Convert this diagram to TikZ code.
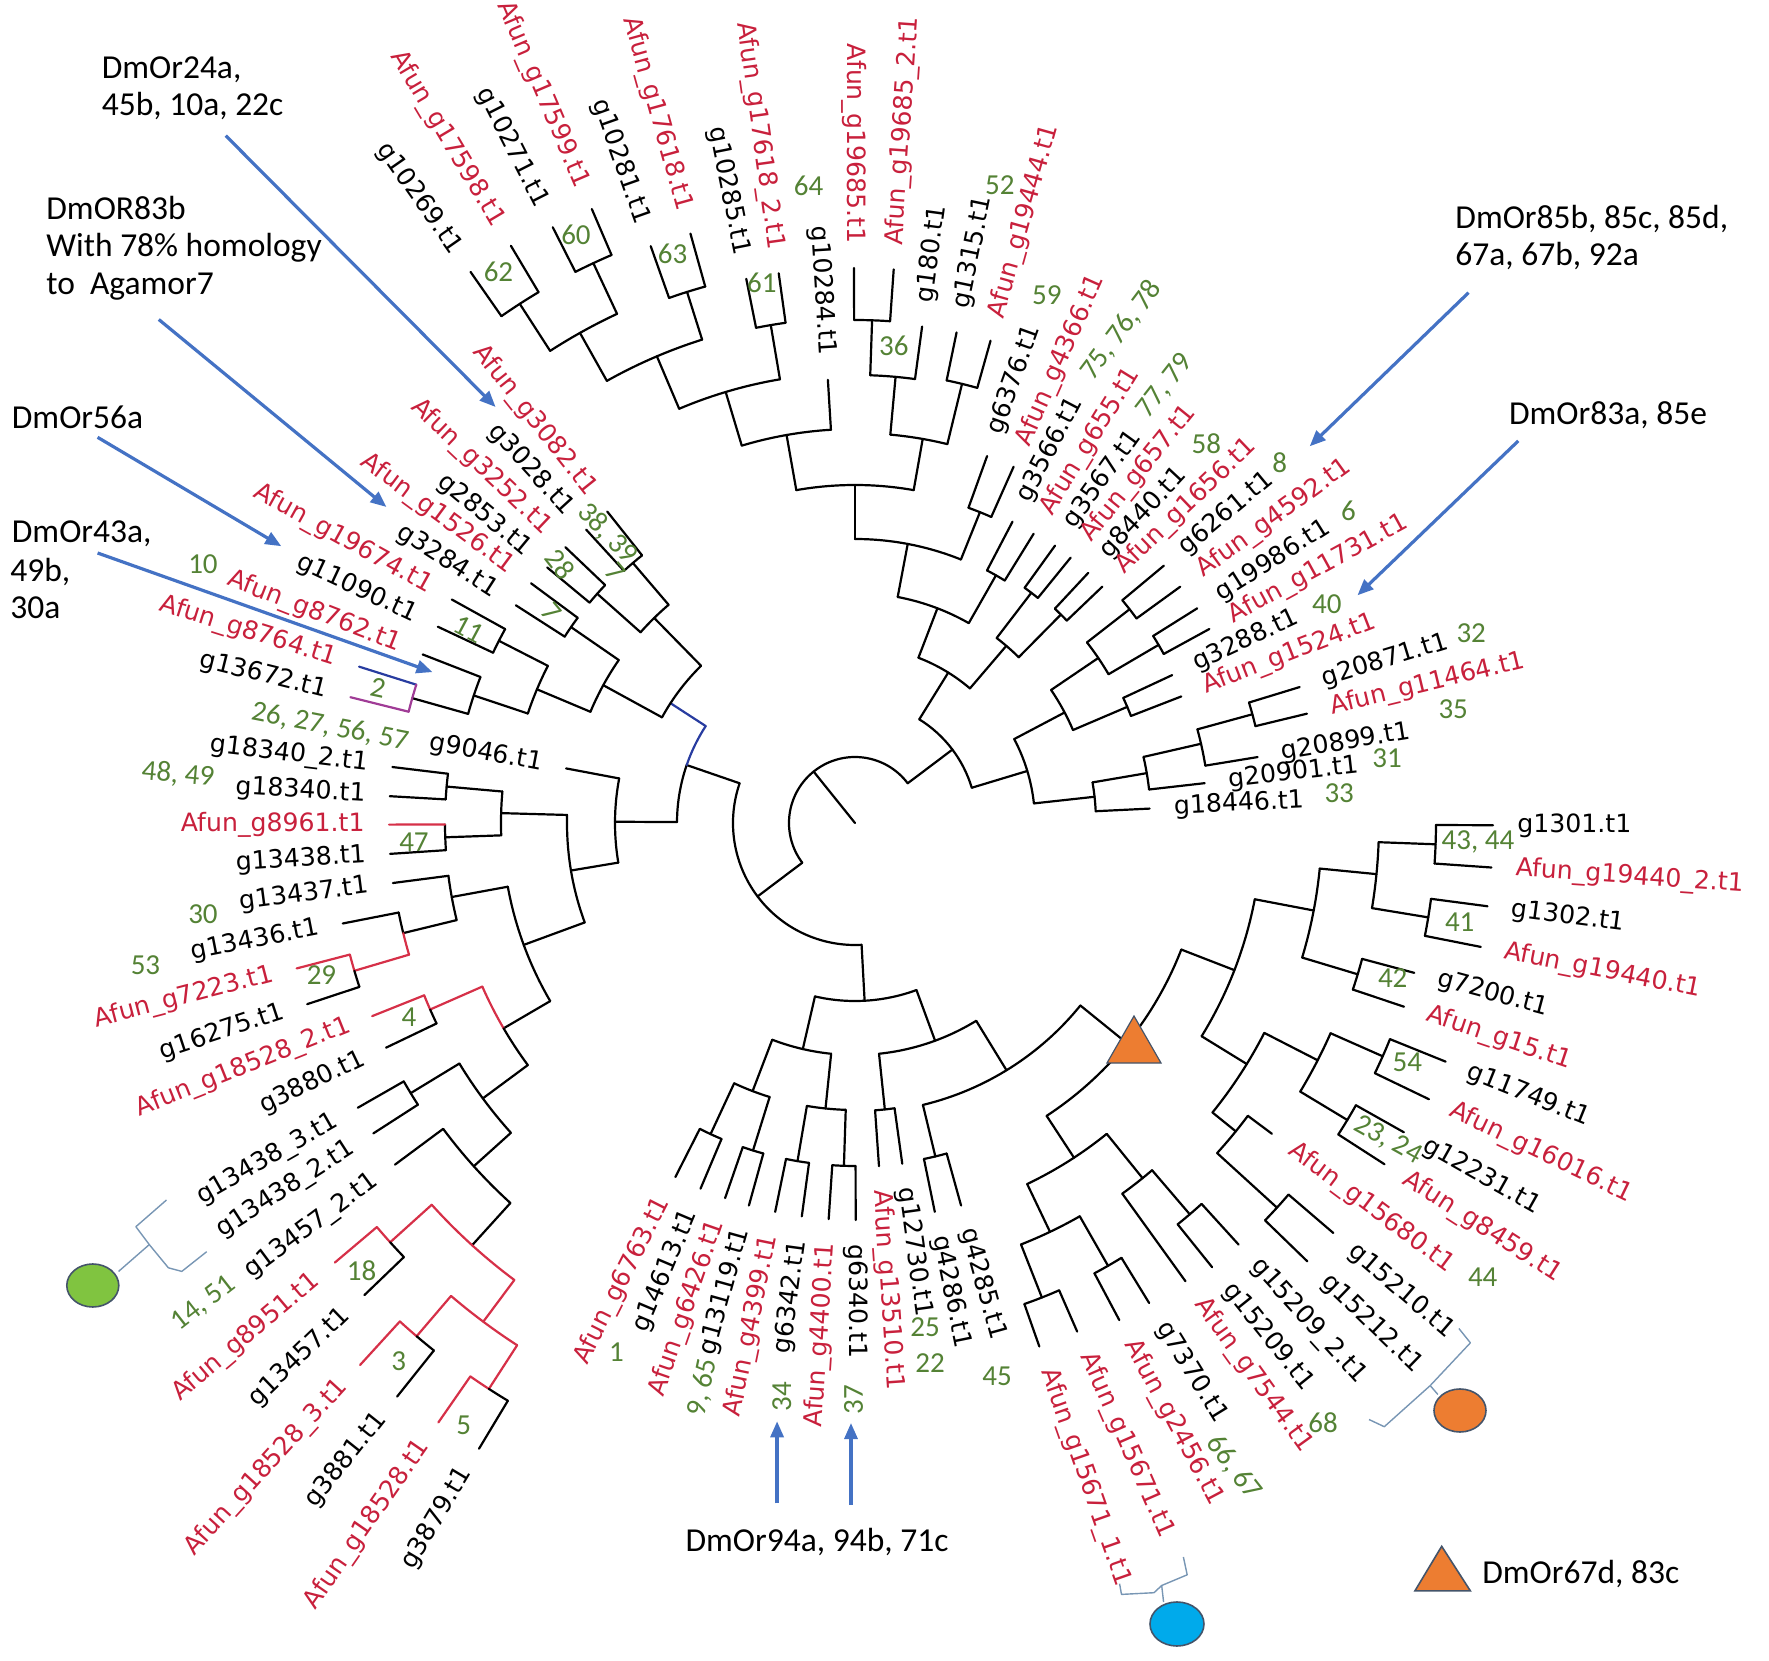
\documentclass[tikz,border=0pt]{standalone}
\usepackage{fontspec}
\setmainfont{DejaVu Sans}
\newfontfamily\cfont{Carlito}
\usetikzlibrary{arrows.meta}
\definecolor{lred}{RGB}{200,32,60}
\definecolor{lgreen}{RGB}{84,130,53}
\definecolor{abl}{RGB}{68,114,196}
\definecolor{bred}{RGB}{214,48,72}
\definecolor{bblue}{RGB}{40,60,160}
\definecolor{bpurp}{RGB}{160,60,150}
\definecolor{orng}{RGB}{237,125,49}
\definecolor{gcirc}{RGB}{128,196,64}
\definecolor{bcirc}{RGB}{0,170,235}
\definecolor{edgeb}{RGB}{68,84,106}
\definecolor{brkc}{RGB}{120,150,180}
\tikzset{
 tline/.style={line width=1.1pt,line cap=round,line join=round},
 lbl/.style={inner sep=0pt,font=\fontsize{12.6}{14}\selectfont},
 gnum/.style={inner sep=0pt,text=lgreen,font=\cfont\fontsize{14.5}{16}\selectfont},
 ann/.style={inner sep=0pt,anchor=base west,font=\cfont\fontsize{16.75}{20}\selectfont},
 arr/.style={color=abl,line width=1.6pt,-{Triangle[length=8pt,width=6.5pt]}},
 brk/.style={draw=brkc,line width=0.7pt,line join=round},
 redb/.style={draw=bred},
 blueb/.style={draw=bblue},
 purpb/.style={draw=bpurp}
}
\newcounter{lc}
\newcommand\tarc[4][]{\draw[tline,#1] (#2:#4) arc[start angle=#2,end angle=#3,radius=#4];}
\newcommand\trad[4][]{\draw[tline,#1] (#2:#3) -- (#2:#4);}
\newcommand\tpair[4]{\tarc{#1}{#2}{#3}\trad{#1}{#3}{#4}\trad{#2}{#3}{#4}}
\newcommand\lR[4][black]{\stepcounter{lc}\pgfmathsetmacro\LRr{#3+24}\node[lbl,text=#1,anchor=west,rotate=#2] (t\arabic{lc}) at (#2:\LRr) {#4};}
\newcommand\lL[4][black]{\stepcounter{lc}\pgfmathsetmacro\LRr{#3+24}\pgfmathsetmacro\LRa{#2+180}\node[lbl,text=#1,anchor=east,rotate=\LRa] (t\arabic{lc}) at (#2:\LRr) {#4};}
\newcommand\gn[4][0]{\stepcounter{lc}\node[gnum,rotate=#1] (g\arabic{lc}) at (#2,#3) {#4};}
\begin{document}
\begin{tikzpicture}[x=0.5pt,y=0.5pt]
\useasboundingbox (-855,-838) rectangle (914,823);
% ---------- root ----------
\draw[tline] (0,0) -- (128.8:66);
\tarc{37}{217}{66}
% ---------- N1 (top + upper right) ----------
\trad{37}{66}{122} \tarc{16.8}{58.2}{122}
\trad{58.2}{122}{177} \tarc{49.5}{69}{177}
\trad{69}{177}{230} \tarc{60.4}{79.3}{230}
\trad{79.3}{230}{284} \tarc{68.1}{90}{284}
\trad{90}{284}{338} \tarc{80}{100}{338}
\trad{100}{338}{394} \tarc{93.5}{106.7}{394}
\trad{93.5}{394}{444}
\trad{106.7}{394}{450} \tarc{99.6}{113}{450}
\trad{99.6}{450}{505} \tpair{97.9}{101.3}{505}{555}
\trad{113}{450}{507} \tarc{107.55}{119.3}{507}
\trad{107.55}{507}{557} \tpair{105.6}{109.5}{557}{612}
\trad{119.3}{507}{562} \tarc{115.05}{122.85}{562}
\trad{115.05}{562}{618} \tpair{113.2}{116.9}{618}{668}
\trad{122.85}{562}{618} \tpair{120.8}{124.9}{618}{672}
\trad{80}{338}{390} \tarc{76.3}{84.8}{390}
\trad{84.8}{390}{448} \tarc{82.3}{88.05}{448}
\trad{82.3}{448}{501}
\trad{88.05}{448}{503} \tpair{86}{90.1}{503}{555}
\trad{76.3}{390}{452} \tpair{74.3}{78.3}{452}{501}
\trad{68.1}{284}{335} \tpair{66}{70.2}{335}{390}
\trad{60.35}{230}{285} \tpair{58.3}{62.4}{285}{340}
\trad{49.5}{177}{233} \tarc{45.35}{52.55}{233}
\trad{52.55}{233}{290} \tpair{50.9}{54.2}{290}{342}
\trad{45.35}{233}{293} \tpair{43.7}{47}{293}{342}
\trad{16.8}{122}{180} \tarc{6.25}{27.8}{180}
\trad{27.8}{180}{237} \tarc{23.1}{34.15}{237}
\trad{34.15}{237}{294} \tarc{30.4}{37.9}{294}
\trad{37.9}{294}{348} \tpair{36}{39.8}{348}{402}
\trad{30.4}{294}{352} \tpair{28.7}{32.1}{352}{404}
\trad{23.1}{237}{296} \tpair{21.2}{25}{296}{350}
\trad{6.25}{180}{241} \tarc{2.8}{9.7}{241}
\trad{2.8}{241}{295}
\trad{9.7}{241}{296} \tarc{6.5}{12.9}{296}
\trad{6.5}{296}{352}
\trad{12.9}{296}{355} \tarc{9.3}{15.3}{355}
\trad{9.3}{355}{408}
\trad{15.3}{355}{412} \tpair{13.6}{17}{412}{465}
% ---------- N2 ----------
\trad{217}{66}{122} \tarc{161}{273.1}{122}
\trad{161}{122}{178} \tarc{161}{179.7}{178}
\tarc[blueb]{147}{161}{178}
\trad[blueb]{147}{178}{220} \tarc{134.4}{151.3}{220}
\trad{134.4}{220}{287} \tarc{130.5}{138.35}{287}
\trad{130.5}{287}{342} \tpair{128.5}{132.5}{342}{398}
\trad{138.35}{287}{345} \tpair{136.4}{140.3}{345}{400}
\trad{151.3}{220}{287} \tarc{145.4}{157.2}{287}
\trad{145.4}{287}{345} \tpair{143.5}{147.3}{345}{403}
\trad{157.2}{287}{345} \tarc{152.9}{161.5}{345}
\trad{152.9}{345}{400} \tpair{151}{154.8}{400}{461}
\trad{161.5}{345}{402} \tarc{158.7}{164.25}{402}
\trad{158.7}{402}{464}
\trad{164.25}{402}{460}
\trad[blueb]{162.5}{460}{520}
\tarc[purpb]{162.5}{166}{460}
\trad[purpb]{166}{460}{520}
% left clade
\trad{179.7}{178}{240} \tarc{169.3}{189.5}{240}
\trad{169.3}{240}{294}
\trad{189.5}{240}{288} \tarc{178.4}{200.2}{288}
\trad{178.4}{288}{354} \tarc{174.9}{182}{354}
\trad{174.9}{354}{410} \tpair{173.1}{176.7}{410}{466}
\trad{182}{354}{410} \tarc{180.2}{183.8}{410}
\trad[redb]{180.2}{410}{466} \trad{183.8}{410}{466}
\trad{200.2}{288}{353} \tarc{190.4}{210.3}{353}
\trad{190.4}{353}{410} \tarc{187.4}{193.7}{410}
\trad{187.4}{410}{466}
\trad{193.7}{410}{465} \tarc{191.1}{193.7}{465} \tarc[redb]{193.7}{196.45}{465}
\trad{191.1}{465}{522}
\trad[redb]{196.45}{465}{522} \tarc[redb]{194.6}{196.45}{522} \tarc{196.45}{198.3}{522}
\trad[redb]{194.6}{522}{577} \trad{198.3}{522}{577}
\trad{210.3}{353}{407} \tarc[redb]{203.7}{210.3}{407} \tarc{210.3}{216.5}{407}
\trad[redb]{203.7}{407}{464} \tarc[redb]{201.8}{203.7}{464} \tarc{203.7}{205.6}{464}
\trad[redb]{201.8}{464}{520} \trad{205.6}{464}{520}
\trad{216.5}{407}{463} \tarc{211.3}{222}{463}
\trad{211.3}{463}{520} \tpair{209.8}{212.8}{520}{573}
\trad{222}{463}{513} \tarc{216.6}{227.8}{513}
\trad{216.6}{513}{573}
\trad{227.8}{513}{570} \tarc[redb]{222.05}{233.3}{570}
\trad[redb]{222.05}{570}{626} \tarc[redb]{220.2}{222.05}{626} \tarc{222.05}{223.9}{626}
\trad[redb]{220.2}{626}{681} \trad{223.9}{626}{681}
\trad[redb]{233.3}{570}{622} \tarc[redb]{229.5}{237.1}{622}
\trad[redb]{229.5}{622}{675} \tarc[redb]{227.6}{229.5}{675} \tarc{229.5}{231.4}{675}
\trad[redb]{227.6}{675}{734} \trad{231.4}{675}{734}
\trad[redb]{237.1}{622}{674} \tarc[redb]{235.2}{237.1}{674} \tarc{237.1}{239}{674}
\trad[redb]{235.2}{674}{730} \trad{239}{674}{730}
% bottom + right
\trad{273.1}{122}{178} \tarc{257}{290.2}{178}
\trad{257}{178}{232} \tarc{249.1}{264.1}{232}
\trad{249.1}{232}{287} \tarc{245.1}{252.7}{287}
\trad{245.1}{287}{343} \tpair{243.1}{247.1}{343}{397}
\trad{252.7}{287}{343} \tpair{250.9}{254.5}{343}{397}
\trad{264.1}{232}{287} \tarc{260.35}{268.15}{287}
\trad{260.35}{287}{343} \tpair{258.4}{262.3}{343}{397}
\trad{268.15}{287}{343} \tpair{266.2}{270.1}{343}{397}
\trad{290.2}{178}{232} \tarc{275.95}{301.5}{232}
\trad{275.95}{232}{288} \tpair{274}{277.9}{288}{344}
\trad{301.5}{232}{290} \tarc{283.55}{321}{290}
\trad{283.55}{290}{343} \tpair{281.6}{285.5}{343}{397}
\trad{321}{290}{350} \tarc{303.2}{338.8}{350}
\trad{338.8}{350}{407} \tarc{328.4}{349.2}{407}
\trad{349.2}{407}{467} \tarc{343.25}{354.4}{467}
\trad{354.4}{467}{524} \tarc{350.65}{357.9}{524}
\trad{357.9}{524}{581} \tpair{356}{359.8}{581}{638}
\trad{350.65}{524}{581} \tpair{348.8}{352.5}{581}{638}
\trad{343.25}{467}{525} \tpair{341.5}{345}{525}{579}
\trad{328.4}{407}{460} \tarc{321}{332.85}{460}
\trad{332.85}{460}{520} \tarc{328.9}{336.15}{520}
\trad{336.15}{520}{577} \tpair{334.3}{338}{577}{637}
\trad{328.9}{520}{575} \tpair{327.2}{330.6}{575}{630}
\trad{321}{460}{490} \tarc{317.65}{323.3}{490}
\trad{323.3}{490}{520}
\trad{317.65}{490}{571} \tpair{315.9}{319.4}{571}{630}
\trad{303.2}{350}{400} \tarc{295.5}{309}{400}
\trad{309}{400}{457} \tarc{305.8}{310.55}{457}
\trad{305.8}{457}{565}
\trad{310.55}{457}{515} \tpair{308.8}{312.3}{515}{570}
\trad{295.5}{400}{453} \tarc{291.5}{299.75}{453}
\trad{299.75}{453}{510} \tpair{298}{301.5}{510}{563}
\trad{291.5}{453}{510} \tpair{289.4}{293.6}{510}{555}
% triangle on node
\filldraw[fill=orng,draw=edgeb,line width=0.6pt] (279,-193) -- (252,-240) -- (306,-240) -- cycle;
% ---------- tip labels ----------
\lL{124.9}{672}{g10269.t1}
\lL[lred]{120.8}{672}{Afun\_g17598.t1}
\lL{116.9}{668}{g10271.t1}
\lL[lred]{113.2}{668}{Afun\_g17599.t1}
\lL{109.5}{612}{g10281.t1}
\lL[lred]{105.6}{612}{Afun\_g17618.t1}
\lL{101.3}{555}{g10285.t1}
\lL[lred]{97.9}{555}{Afun\_g17618\_2.t1}
\lL{93.5}{444}{g10284.t1}
\lL[lred]{90.1}{555}{Afun\_g19685.t1}
\lR[lred]{86}{555}{Afun\_g19685\_2.t1}
\lR{82.3}{501}{g180.t1}
\lR{78.3}{501}{g1315.t1}
\lR[lred]{74.3}{501}{Afun\_g19444.t1}
\lR{70.2}{390}{g6376.t1}
\lR[lred]{66}{390}{Afun\_g4366.t1}
\lR{62.4}{340}{g3566.t1}
\lR[lred]{58.3}{340}{Afun\_g655.t1}
\lR{54.2}{342}{g3567.t1}
\lR[lred]{50.9}{342}{Afun\_g657.t1}
\lR{47}{342}{g8440.t1}
\lR[lred]{43.7}{342}{Afun\_g1656.t1}
\lR{39.8}{402}{g6261.t1}
\lR[lred]{36}{402}{Afun\_g4592.t1}
\lR{32.1}{404}{g19986.t1}
\lR[lred]{28.7}{404}{Afun\_g11731.t1}
\lR{25}{350}{g3288.t1}
\lR[lred]{21.2}{350}{Afun\_g1524.t1}
\lR{17}{465}{g20871.t1}
\lR[lred]{13.6}{465}{Afun\_g11464.t1}
\lR{9.3}{408}{g20899.t1}
\lR{6.5}{352}{g20901.t1}
\lR{2.8}{295}{g18446.t1}
\lR{359.8}{638}{g1301.t1}
\lR[lred]{356}{638}{Afun\_g19440\_2.t1}
\lR{352.5}{638}{g1302.t1}
\lR[lred]{348.8}{638}{Afun\_g19440.t1}
\lR{345}{579}{g7200.t1}
\lR[lred]{341.5}{579}{Afun\_g15.t1}
\lR{338}{637}{g11749.t1}
\lR[lred]{334.3}{637}{Afun\_g16016.t1}
\lR{330.6}{630}{g12231.t1}
\lR[lred]{327.2}{630}{Afun\_g8459.t1}
\lR[lred]{323.3}{520}{Afun\_g15680.t1}
\lR{319.4}{630}{g15210.t1}
\lR{315.9}{630}{g15212.t1}
\lR{312.3}{570}{g15209\_2.t1}
\lR{308.8}{570}{g15209.t1}
\lR[lred]{305.8}{565}{Afun\_g7544.t1}
\lR{301.5}{563}{g7370.t1}
\lR[lred]{298}{563}{Afun\_g2456.t1}
\lR[lred]{293.6}{555}{Afun\_g15671.t1}
\lR[lred]{289.4}{555}{Afun\_g15671\_1.t1}
\lR{285.5}{397}{g4285.t1}
\lR{281.6}{397}{g4286.t1}
\lR{277.9}{344}{g12730.t1}
\lR[lred]{274}{344}{Afun\_g13510.t1}
\lR{270.1}{397}{g6340.t1}
\lL[lred]{266.2}{397}{Afun\_g4400.t1}
\lL{262.3}{397}{g6342.t1}
\lL[lred]{258.4}{397}{Afun\_g4399.t1}
\lL{254.5}{397}{g13119.t1}
\lL[lred]{250.9}{397}{Afun\_g6426.t1}
\lL{247.1}{397}{g14613.t1}
\lL[lred]{243.1}{397}{Afun\_g6763.t1}
\lL{239}{730}{g3879.t1}
\lL[lred]{235.2}{730}{Afun\_g18528.t1}
\lL{231.4}{734}{g3881.t1}
\lL[lred]{227.6}{734}{Afun\_g18528\_3.t1}
\lL{223.9}{681}{g13457.t1}
\lL[lred]{220.2}{681}{Afun\_g8951.t1}
\lL{216.6}{573}{g13457\_2.t1}
\lL{212.8}{573}{g13438\_2.t1}
\lL{209.8}{573}{g13438\_3.t1}
\lL{205.6}{520}{g3880.t1}
\lL[lred]{201.8}{520}{Afun\_g18528\_2.t1}
\lL{198.3}{577}{g16275.t1}
\lL[lred]{194.6}{577}{Afun\_g7223.t1}
\lL{191.1}{522}{g13436.t1}
\lL{187.4}{466}{g13437.t1}
\lL{183.8}{466}{g13438.t1}
\lL[lred]{180.2}{466}{Afun\_g8961.t1}
\lL{176.7}{466}{g18340.t1}
\lL{173.1}{466}{g18340\_2.t1}
\lL{169.3}{294}{g9046.t1}
\lL{166}{520}{g13672.t1}
\lL[lred]{162.5}{520}{Afun\_g8764.t1}
\lL[lred]{158.7}{464}{Afun\_g8762.t1}
\lL{154.8}{461}{g11090.t1}
\lL[lred]{151}{461}{Afun\_g19674.t1}
\lL{147.3}{403}{g3284.t1}
\lL[lred]{143.5}{403}{Afun\_g1526.t1}
\lL{140.3}{400}{g2853.t1}
\lL[lred]{136.4}{400}{Afun\_g3252.t1}
\lL{132.5}{398}{g3028.t1}
\lL[lred]{128.5}{398}{Afun\_g3082.t1}
% ---------- green numbers ----------
\gn{-356.5}{551}{62}
\gn{-279}{588}{60}
\gn{-182.4}{568.8}{63}
\gn{-93.2}{540.3}{61}
\gn{-46.5}{637.4}{64}
\gn{38.8}{476.7}{36}
\gn{144.8}{637.4}{52}
\gn{191.9}{527.8}{59}
\gn[53]{266.5}{493}{75, 76, 78}
\gn[52]{310}{437}{77, 79}
\gn{351.4}{379.6}{58}
\gn{424.8}{360.7}{8}
\gn{493.5}{312}{6}
\gn{471.9}{218.7}{40}
\gn{616.2}{190.2}{32}
\gn{598.2}{113.4}{35}
\gn{532}{65.2}{31}
\gn{484.2}{29.5}{33}
\gn{623}{-18.7}{43, 44}
\gn{604.7}{-99}{41}
\gn{537.7}{-155.4}{42}
\gn{552.3}{-239}{54}
\gn[-29]{533}{-317}{23, 24}
\gn{627.7}{-454.4}{44}
\gn{468}{-600}{68}
\gn[-52]{378.9}{-644.7}{66, 67}
\gn{142.1}{-553.7}{45}
\gn{75.2}{-540.1}{22}
\gn{70.2}{-504.4}{25}
\gn[90]{-1.4}{-576.9}{37}
\gn[90]{-73.3}{-573.3}{34}
\gn[78]{-151.8}{-564.4}{9, 65}
\gn{-238.6}{-528.7}{1}
\gn{-391.2}{-601.9}{5}
\gn{-456.2}{-538.3}{3}
\gn{-493.4}{-447.6}{18}
\gn[38]{-651.4}{-480.5}{14, 51}
\gn{-446}{-194}{4}
\gn{-533.5}{-152.5}{29}
\gn{-709.5}{-142}{53}
\gn{-652}{-91}{30}
\gn{-441}{-18.7}{47}
\gn[-5]{-677}{48.4}{48, 49}
\gn[-11]{-525}{96}{26, 27, 56, 57}
\gn[-12]{-477}{135.5}{2}
\gn{-652}{259}{10}
\gn[-28]{-386}{194}{11}
\gn[-50]{-303.5}{210.6}{7}
\gn[-52]{-295}{259}{28}
\gn[-50]{-239.4}{251}{7}
\gn[-46]{-247.5}{289.2}{38, 39}
% ---------- annotations ----------
\node[ann] (an1) at (-753.6,744.5) {DmOr24a,};
\node[ann] (an1b) at (-753.6,707) {45b, 10a, 22c};
\node[ann] (an2) at (-809,603.4) {DmOR83b};
\node[ann] (an2b) at (-809,566) {With 78\% homology};
\node[ann] (an2c) at (-809,528.5) {to\ \ Agamor7};
\node[ann] (an3) at (-843.5,394.6) {DmOr56a};
\node[ann] (an4) at (-843.5,280) {DmOr43a,};
\node[ann] (an4b) at (-845,242) {49b,};
\node[ann] (an4c) at (-845,205) {30a};
\node[ann] (an5) at (600,594.5) {DmOr85b, 85c, 85d,};
\node[ann] (an5b) at (600,557) {67a, 67b, 92a};
\node[ann] (an6) at (653.7,398.2) {DmOr83a, 85e};
\node[ann] (an7) at (-169.8,-728.6) {DmOr94a, 94b, 71c};
\node[ann] (an8) at (626.9,-760.7) {DmOr67d, 83c};
% ---------- arrows ----------
\coordinate (a1s) at (-629.2,687.3); \coordinate (a1e) at (-359.4,416);
\coordinate (a2s) at (-696.2,503.5); \coordinate (a2e) at (-468.5,316);
\coordinate (a3s) at (-757.4,385.7); \coordinate (a3e) at (-573.7,276.8);
\coordinate (a4s) at (-757.4,270); \coordinate (a4e) at (-422.5,150.9);
\coordinate (a5s) at (613.5,530.3); \coordinate (a5e) at (454.7,376.7);
\coordinate (a6s) at (663.3,382.1); \coordinate (a6e) at (502.5,227.7);
\coordinate (a7s) at (-77.9,-680.4); \coordinate (a7e) at (-77.9,-598.3);
\coordinate (a8s) at (-4,-682.2); \coordinate (a8e) at (-4,-600);
\draw[arr] (a1s) -- (a1e);
\draw[arr] (a2s) -- (a2e);
\draw[arr] (a3s) -- (a3e);
\draw[arr] (a4s) -- (a4e);
\draw[arr] (a5s) -- (a5e);
\draw[arr] (a6s) -- (a6e);
\draw[arr] (a7s) -- (a7e);
\draw[arr] (a8s) -- (a8e);
% ---------- brackets and markers ----------
\draw[brk] (-688.5,-377) -- (-719.1,-403.7) -- (-705.7,-421.6) -- (-686.6,-444.8) -- (-673.2,-448.4) -- (-648.3,-428.7);
\draw[brk] (-705.7,-421.6) -- (-736.4,-448.4);
\filldraw[fill=gcirc,draw=edgeb,line width=0.8pt] (-762.2,-462.5) ellipse [x radius=26,y radius=21.5];
\draw[brk] (603.9,-505.5) -- (615.4,-519.8) -- (575.2,-562.6) -- (529.3,-603.7) -- (514,-596.5);
\draw[brk] (575.2,-562.6) -- (582.9,-571.5);
\filldraw[fill=orng,draw=edgeb,line width=0.8pt] (605,-587.5) ellipse [x radius=26,y radius=21.5];
\draw[brk] (264.6,-760.7) -- (266.5,-771.4) -- (299,-769.7) -- (306.7,-762.5) -- (332.2,-751.8) -- (328.4,-734);
\draw[brk] (306.7,-762.5) -- (308.6,-779);
\filldraw[fill=bcirc,draw=edgeb,line width=0.8pt] (322,-801) ellipse [x radius=27,y radius=22];
\filldraw[fill=orng,draw=edgeb,line width=0.8pt] (559.9,-767.9) -- (615.4,-767.9) -- (586.7,-723.3) -- cycle;
\end{tikzpicture}
\end{document}
